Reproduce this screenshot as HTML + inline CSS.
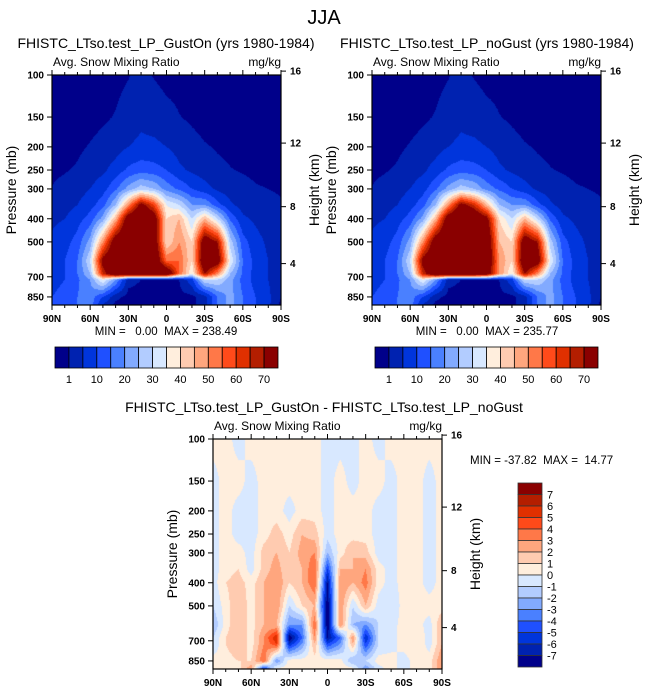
<!DOCTYPE html>
<html><head><meta charset="utf-8">
<style>
html,body{margin:0;padding:0;background:#fff;}
#wrap{position:relative;width:648px;height:694px;overflow:hidden;font-family:"Liberation Sans",Arial,sans-serif;}
canvas{position:absolute;}
svg{position:absolute;left:0;top:0;}
text{white-space:pre;}
</style></head>
<body>
<div id="wrap">
<canvas id="c1" width="229" height="230" style="left:52px;top:75px"></canvas>
<canvas id="c2" width="229" height="230" style="left:372px;top:75px"></canvas>
<canvas id="c3" width="229" height="230" style="left:213px;top:439px"></canvas>
<svg id="ov" width="648" height="694"></svg>
</div>
<script>
// ---- data ----
const lats = [90,80,70,60,50,40,30,20,10,0,-10,-20,-30,-40,-50,-60,-70,-80,-90];
const pressures = [100,150,200,250,300,350,400,500,600,680,720,850,921];
const snowGustOn = [
 [0,0,0,0,0,0,0.8,2,0.8,0,0,0,0,0,0,0,0,0,0],
 [0,0,0,0,0.5,1.2,2.5,4,3,2,1.1,0.5,0,0,0,0,0,0,0],
 [0,0,0.5,1.2,2,3,5,6,6,5,3,2,1.2,0.8,0.5,0,0,0,0],
 [0.5,0.8,1.3,2.5,4,7,11,13,12,10,6,4,2.5,1.5,1.1,0.8,0.5,0.3,0],
 [1.1,1.8,3,5,8,14,22,28,25,18,14,10,7,4,2.5,1.8,1.2,1,0.8],
 [2,3,5,8,13,25,50,75,60,35,30,20,20,12,6,3,2,1.5,1.2],
 [4,5,8,12,22,45,80,85,80,40,45,30,45,30,14,6,4,2,1.5],
 [6,8,12,22,50,80,85,85,82,40,50,40,80,70,28,12,7,4,3],
 [8,10,15,30,75,85,85,85,85,55,55,40,85,80,35,15,8,5,3],
 [8,10,15,25,65,85,85,85,85,85,55,35,70,50,25,14,8,5,3],
 [8,10,14,20,35,20,2,1,1,1,1,8,30,30,22,13,8,5,2],
 [10,12,15,18,10,2,0,0,0,0,0,0,3,15,22,15,10,6,1],
 [10,12,15,18,4,0,0,0,0,0,0,0,3,15,22,15,10,6,0]
];
const snowNoGust = [
 [0,0,0,0,0,0,0.8,2,0.8,0,0,0,0,0,0,0,0,0,0],
 [0,0,0,0,0.5,1.2,2.5,4,3,2,1.1,0.5,0,0,0,0,0,0,0],
 [0,0,0.5,1.2,2,3,5,6,6,5,3,2,1.2,0.8,0.5,0,0,0,0],
 [0.5,0.8,1.3,2.5,4,7,11,13,12,10,6,4,2.5,1.5,1.1,0.8,0.5,0.3,0],
 [1.1,1.8,3,5,8,14,22,28,25,18,14,10,7,4,2.5,1.8,1.2,1,0.8],
 [2,3,5,8,13,25,50,75,65,45,25,20,20,12,6,3,2,1.5,1.2],
 [4,5,8,12,22,45,80,85,85,75,40,30,45,30,14,6,4,2,1.5],
 [6,8,12,22,50,80,85,85,85,85,45,40,80,70,28,12,7,4,3],
 [8,10,15,30,75,85,85,85,85,85,50,40,85,80,35,15,8,5,3],
 [8,10,15,25,65,85,85,85,85,80,50,35,70,50,25,14,8,5,3],
 [8,10,14,20,35,20,2,1,1,1,1,8,30,30,22,13,8,5,2],
 [10,12,15,18,10,2,0,0,0,0,0,0,3,15,22,15,10,6,1],
 [10,12,15,18,4,0,0,0,0,0,0,0,3,15,22,15,10,6,0]
];
const snowDiff = [
 [0.5,0.5,-0.5,0.5,0.5,0.5,0.5,0.5,0.5,-0.5,-0.5,-0.5,0.5,-0.5,0.5,0.5,0.5,0.5,0.5],
 [-0.5,0.5,0.5,-0.5,0.5,0.5,0.5,0.5,0.5,-0.5,0.5,-0.5,0.5,0.5,-0.5,0.5,0.5,-0.5,0.5],
 [-0.5,0.5,-0.5,-0.5,0.5,0.5,-0.5,0.5,0.5,-0.5,0.5,0.5,0.5,-0.5,-0.5,0.5,0.5,-0.5,0.5],
 [-0.5,0.5,-0.5,-0.5,0.5,1.5,0.5,2,1.5,-0.5,0.5,0.5,0.5,-0.5,-0.5,0.5,0.5,-0.5,0.5],
 [-0.5,0.5,0.5,-0.5,1.5,2,1,2.5,3,-2,0.5,2,1.5,-0.5,-0.5,0.5,0.5,-0.5,0.5],
 [-0.5,0.5,1,-0.5,1.5,2.5,1,2,4,-5,2,2,3,0.5,-0.5,0.5,0.5,-0.5,0.5],
 [-0.5,1,1.5,0.5,2,3,1,2,4,-7,3,2,3.5,0.5,-0.5,0.5,0.5,-0.5,0.5],
 [-1,0.5,2,0.5,2,3,-1,1,2,-8,3,-1,2,-0.5,-1,0.5,0.5,0.5,0.5],
 [-2,0.5,2,0.5,2,2,-3,-3,4,-8,3,-2,-3,-1,-0.5,0.5,0.5,-0.5,2],
 [-1,1,2,0.5,3,6,-8,-4,3,-7,-4,3,-6,-1,-0.5,0.5,1,-0.5,2],
 [-1,1,2,0.5,3,5,-6,-3,2,-5,-3,2,-5,-1,-0.5,0.5,1,-0.5,2],
 [0.5,0.5,1,1,4,-3,0.5,0.5,0.5,0.5,0.5,-2,-1,0.5,0.5,-0.5,0.5,0.5,3],
 [0.5,0.5,0.5,3,-6,0.5,0.5,0.5,0.5,0.5,0.5,0.5,-3,-0.5,0.5,-0.5,0.5,0.5,3]
];
const levelsSnow = [1,5,10,15,20,25,30,35,40,45,50,55,60,65,70];
const levelsDiff = [-7,-6,-5,-4,-3,-2,-1,0,1,2,3,4,5,6,7];
const palette = ["#00008a","#0022b0","#0035dc","#1f50ff","#4a80ff","#82aaff","#b2ccff","#d8e8ff","#ffeedd","#ffcbb0","#ffa67e","#ff7848","#ff4a1a","#e03000","#b41e00","#8a0000"];
const snowTickLabels = ["1","10","20","30","40","50","60","70"];
const diffTickLabels = ["7","6","5","4","3","2","1","0","-1","-2","-3","-4","-5","-6","-7"];
const pTicks = [100,150,200,250,300,400,500,700,850];
const hTicks = [4,8,12,16];
const latTicks = [90,60,30,0,-30,-60,-90];
const latLabels = ["90N","60N","30N","0","30S","60S","90S"];

// ---- scales ----
const W = 229, H = 230;
function xOf(lat){ return (90-lat)/180*W; }
function yOf(p){ return 103.7*Math.log(p/100); }
function hToP(z){ return 1013.25*Math.pow(1-2.25577e-5*z*1000,5.2559); }
function colorIdx(v,lv){ let i=0; while(i<lv.length && v>=lv[i]) i++; return i; }
function hex(c){ return [parseInt(c.substr(1,2),16),parseInt(c.substr(3,2),16),parseInt(c.substr(5,2),16)]; }
const rgb = palette.map(hex);

function drawField(id, grid, lv){
  const ctx = document.getElementById(id).getContext('2d');
  const img = ctx.createImageData(W,H);
  const rowY = pressures.map(yOf);
  for(let py=0;py<H;py++){
    const yy = py+0.5;
    let r=0; while(r<rowY.length-2 && yy>rowY[r+1]) r++;
    let ty=(yy-rowY[r])/(rowY[r+1]-rowY[r]); ty=Math.max(0,Math.min(1,ty));
    for(let px=0;px<W;px++){
      const fx=(px+0.5)/W*(lats.length-1);
      let c=Math.min(lats.length-2,Math.floor(fx)); const tx=fx-c;
      const v=(grid[r][c]*(1-tx)+grid[r][c+1]*tx)*(1-ty)+(grid[r+1][c]*(1-tx)+grid[r+1][c+1]*tx)*ty;
      const col=rgb[colorIdx(v,lv)];
      const k=(py*W+px)*4;
      img.data[k]=col[0];img.data[k+1]=col[1];img.data[k+2]=col[2];img.data[k+3]=255;
    }
  }
  ctx.putImageData(img,0,0);
}
drawField('c1',snowGustOn,levelsSnow);
drawField('c2',snowNoGust,levelsSnow);
drawField('c3',snowDiff,levelsDiff);

// ---- svg ----
const svg=document.getElementById('ov');
const NS='http://www.w3.org/2000/svg';
function el(tag,attrs,parent){const e=document.createElementNS(NS,tag);for(const k in attrs)e.setAttribute(k,attrs[k]);(parent||svg).appendChild(e);return e;}
function txt(x,y,s,size,anchor,name,extra){const t=el('text',Object.assign({x:x,y:y,'font-size':size,'text-anchor':anchor||'start','font-family':'Liberation Sans, Arial, sans-serif',fill:'#000'},extra||{}));t.textContent=s;


return t;}

function axes(x0,y0,prefix){
  const g=el('g',{});
  
  
  el('rect',{x:x0,y:y0,width:W,height:H,fill:'none',stroke:'#000','stroke-width':1.2},g);
  pTicks.forEach(p=>{const y=y0+yOf(p);
    el('line',{x1:x0-5,y1:y,x2:x0,y2:y,stroke:'#000','stroke-width':1},g);
    txt(x0-8,y+3.5,String(p),10,'end',prefix+'-pressure-tick-label',{'font-weight':'bold'});});
  hTicks.forEach(h=>{const y=y0+yOf(hToP(h));
    el('line',{x1:x0+W,y1:y,x2:x0+W+5,y2:y,stroke:'#000','stroke-width':1},g);
    txt(x0+W+9,y+3.5,String(h),10,'start',prefix+'-height-tick-label',{'font-weight':'bold'});});
  for(let lat=90;lat>=-90;lat-=10){const x=x0+xOf(lat);const major=lat%30===0;const L=major?5:3;
    el('line',{x1:x,y1:y0+H,x2:x,y2:y0+H+L,stroke:'#000','stroke-width':1},g);
    el('line',{x1:x,y1:y0,x2:x,y2:y0-L,stroke:'#000','stroke-width':1},g);}
  latTicks.forEach((lat,i)=>{txt(x0+xOf(lat),y0+H+17,latLabels[i],10,'middle',prefix+'-lat-tick-label',{'font-weight':'bold'});});
  txt(x0+1,y0-9,'Avg. Snow Mixing Ratio',12,'start',prefix+'-left-subtitle');
  txt(x0+W,y0-9,'mg/kg',12,'end',prefix+'-units-label');
  txt(0,0,'Pressure (mb)',14,'middle',prefix+'-y-axis-title',{transform:`translate(${x0-36},${y0+H/2}) rotate(-90)`});
  txt(0,0,'Height (km)',14,'middle',prefix+'-right-axis-title',{transform:`translate(${x0+W+38},${y0+H/2}) rotate(-90)`});
}
axes(52,75,'gust-on');
axes(372,75,'no-gust');
axes(213,439,'diff');

txt(324,24,'JJA',20,'middle','figure-title');
txt(166,48,'FHISTC_LTso.test_LP_GustOn (yrs 1980-1984)',14,'middle','gust-on-title');
txt(487,48,'FHISTC_LTso.test_LP_noGust (yrs 1980-1984)',14,'middle','no-gust-title');
txt(166,335,'MIN =   0.00  MAX = 238.49',11.5,'middle','gust-on-min-max');
txt(487,335,'MIN =   0.00  MAX = 235.77',11.5,'middle','no-gust-min-max');
txt(324,412,'FHISTC_LTso.test_LP_GustOn - FHISTC_LTso.test_LP_noGust',14,'middle','difference-title');
txt(470,464,'MIN = -37.82  MAX =  14.77',11.5,'start','difference-min-max');

// horizontal colorbars
function hbar(x0,prefix){
  const y0=347,h=21,bw=223/16;
  palette.forEach((c,i)=>{const r=el('rect',{x:x0+i*bw,y:y0,width:bw,height:h,fill:c,stroke:'#000','stroke-width':0.8});
    
    });
  snowTickLabels.forEach((s,i)=>{txt(x0+(2*i+1)*bw,y0+h+15,s,11,'middle',prefix+'-colorbar-label');});
}
hbar(55,'gust-on');
hbar(375,'no-gust');
// vertical colorbar
(function(){
  const x0=518,y0=483,w=24,bh=184/16;
  palette.slice().reverse().forEach((c,i)=>{const r=el('rect',{x:x0,y:y0+i*bh,width:w,height:bh,fill:c,stroke:'#333','stroke-width':0.8});
    
    });
  diffTickLabels.forEach((s,i)=>{txt(x0+w+5,y0+(i+1)*bh+4,s,11,'start','difference-colorbar-label');});
})();
</script>
</body></html>
